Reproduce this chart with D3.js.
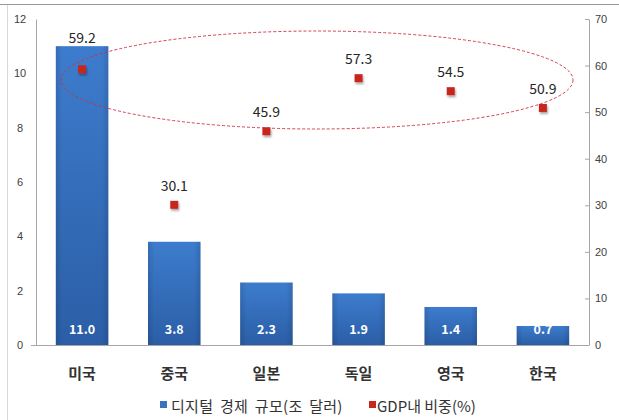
<!DOCTYPE html>
<html>
<head>
<meta charset="utf-8">
<script src="https://cdn.jsdelivr.net/npm/d3@7"></script>
<style>
  html, body { margin: 0; padding: 0; background: #fff; }
  svg { display: block; font-family: "Malgun Gothic", "Noto Sans CJK KR", "Noto Sans", sans-serif; }
</style>
</head>
<body>
<svg id="chart" width="619" height="420"></svg>
<script>
// Digital economy size (trillion USD) and share of GDP (%) by country
const countries = ["미국", "중국", "일본", "독일", "영국", "한국"];
const digitalSize = [11.0, 3.8, 2.3, 1.9, 1.4, 0.7];
const gdpShare = [59.2, 30.1, 45.9, 57.3, 54.5, 50.9];
const leftTicks = [0, 2, 4, 6, 8, 10, 12];
const rightTicks = [0, 10, 20, 30, 40, 50, 60, 70];
const legendLabels = ["디지털 경제 규모(조 달러)", "GDP내 비중(%)"];

const svg = d3.select("#chart");
const W = 619, H = 420;
const plot = { left: 36, right: 589, top: 19, bottom: 345 };

// Frame lines around the chart panel
svg.append("line").attr("x1", 0).attr("x2", W).attr("y1", 4.5).attr("y2", 4.5)
  .attr("stroke", "#9a9a9a").attr("stroke-width", 1);
svg.append("line").attr("x1", 7.5).attr("x2", 7.5).attr("y1", 5).attr("y2", H)
  .attr("stroke", "#d8d8d8").attr("stroke-width", 1);

const x = d3.scaleBand().domain(countries).range([plot.left, plot.right]).paddingInner(0.43).paddingOuter(0.215);
const yL = d3.scaleLinear().domain([0, 12]).range([plot.bottom, plot.top]);
const yR = d3.scaleLinear().domain([0, 70]).range([plot.bottom, plot.top]);

const defs = svg.append("defs");
const grad = defs.append("linearGradient").attr("id", "barGrad").attr("x1", 0).attr("y1", 0).attr("x2", 0).attr("y2", 1);
grad.append("stop").attr("offset", "0%").attr("stop-color", "#3d7ccd");
grad.append("stop").attr("offset", "100%").attr("stop-color", "#2b5ea6");
const hgrad = defs.append("linearGradient").attr("id", "barEdge").attr("x1", 0).attr("y1", 0).attr("x2", 1).attr("y2", 0);
hgrad.append("stop").attr("offset", "0%").attr("stop-color", "#000").attr("stop-opacity", 0.12);
hgrad.append("stop").attr("offset", "12%").attr("stop-color", "#000").attr("stop-opacity", 0);
hgrad.append("stop").attr("offset", "88%").attr("stop-color", "#000").attr("stop-opacity", 0);
hgrad.append("stop").attr("offset", "100%").attr("stop-color", "#000").attr("stop-opacity", 0.12);
const shadow = defs.append("filter").attr("id", "mShadow").attr("x", "-50%").attr("y", "-50%").attr("width", "200%").attr("height", "200%");
shadow.append("feDropShadow").attr("dx", 1).attr("dy", 2).attr("stdDeviation", 1)
  .attr("flood-color", "#000").attr("flood-opacity", 0.35);

// Left axis
const leftAxis = svg.append("g").attr("transform", `translate(${plot.left},0)`)
  .call(d3.axisLeft(yL).tickValues(leftTicks).tickSize(0).tickPadding(10).tickFormat(d3.format("d")));
leftAxis.select(".domain").attr("stroke", "#a6a6a6");
leftAxis.selectAll("text").attr("fill", "#404040").attr("font-size", 11).attr("text-anchor", "middle").attr("dx", -6);

// Right axis
const rightAxis = svg.append("g").attr("transform", `translate(${plot.right},0)`)
  .call(d3.axisRight(yR).tickValues(rightTicks).tickSize(0).tickPadding(6).tickFormat(d3.format("d")));
rightAxis.select(".domain").attr("stroke", "#a6a6a6");
rightAxis.selectAll("text").attr("fill", "#404040").attr("font-size", 11);
rightAxis.selectAll(".tick").append("line").attr("x1", -4).attr("x2", 0).attr("stroke", "#a6a6a6");

// Bars
const barG = svg.append("g");
barG.selectAll("rect.bar").data(digitalSize).join("rect").attr("class", "bar")
  .attr("x", (d, i) => x(countries[i])).attr("width", x.bandwidth())
  .attr("y", d => yL(d)).attr("height", d => yL(0) - yL(d))
  .attr("fill", "url(#barGrad)");
barG.selectAll("rect.edge").data(digitalSize).join("rect").attr("class", "edge")
  .attr("x", (d, i) => x(countries[i])).attr("width", x.bandwidth())
  .attr("y", d => yL(d)).attr("height", d => yL(0) - yL(d))
  .attr("fill", "url(#barEdge)");
barG.selectAll("text").data(digitalSize).join("text")
  .attr("x", (d, i) => x(countries[i]) + x.bandwidth() / 2)
  .attr("y", yL(0) - 11)
  .attr("text-anchor", "middle").attr("fill", "#fff").attr("font-weight", "bold").attr("font-size", 12.5)
  .text(d => d.toFixed(1));

// Bottom axis line and category labels
svg.append("line").attr("x1", plot.left - 5).attr("x2", plot.right).attr("y1", plot.bottom + 0.5).attr("y2", plot.bottom + 0.5)
  .attr("stroke", "#a6a6a6");
svg.append("g").selectAll("text").data(countries).join("text")
  .attr("x", d => x(d) + x.bandwidth() / 2).attr("y", 379)
  .attr("text-anchor", "middle").attr("font-size", 15).attr("font-weight", "bold").attr("fill", "#333")
  .text(d => d);

// GDP share markers and labels
const mG = svg.append("g");
const cx = i => x(countries[i]) + x.bandwidth() / 2;
mG.selectAll("rect").data(gdpShare).join("rect")
  .attr("x", (d, i) => cx(i) - 4).attr("y", d => yR(d) - 4)
  .attr("width", 8).attr("height", 8)
  .attr("fill", "#c8281f").attr("filter", "url(#mShadow)");
mG.selectAll("text").data(gdpShare).join("text")
  .attr("x", (d, i) => cx(i))
  .attr("y", (d, i) => Math.min(yR(d) - 14, yL(digitalSize[i]) - 3))
  .attr("text-anchor", "middle").attr("font-size", 14).attr("fill", "#262626")
  .text(d => d.toFixed(1));

// Dashed highlight ellipse around the high-share group
svg.append("ellipse").attr("cx", 317).attr("cy", 80).attr("rx", 256).attr("ry", 49)
  .attr("fill", "none").attr("stroke", "#cc2f45").attr("stroke-opacity", 0.9)
  .attr("stroke-width", 1).attr("stroke-dasharray", "3,2");

// Legend
const lg = svg.append("g").attr("font-size", 15).attr("fill", "#333");
lg.append("rect").attr("x", 160).attr("y", 401).attr("width", 7).attr("height", 7).attr("fill", "#3a72c0");
lg.append("text").attr("x", 171).attr("y", 412).attr("word-spacing", 3).attr("letter-spacing", 0.3).text(legendLabels[0]);
lg.append("rect").attr("x", 369).attr("y", 401).attr("width", 7).attr("height", 7).attr("fill", "#c8281f");
lg.append("text").attr("x", 377).attr("y", 412).text(legendLabels[1]);
</script>
</body>
</html>
